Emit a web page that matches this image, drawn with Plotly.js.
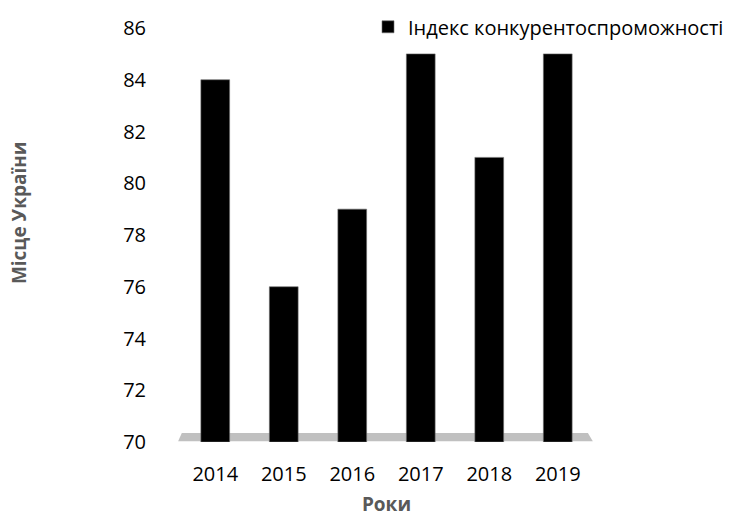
<!DOCTYPE html>
<html>
<head>
<meta charset="utf-8">
<script src="https://cdn.plot.ly/plotly-3.0.1.min.js"></script>
<style>html,body{margin:0;padding:0;background:#fff;}#chart{width:736px;height:517px;}</style>
</head>
<body>
<div id="chart"></div>
<script>
const years = ['2014', '2015', '2016', '2017', '2018', '2019'];
const rankValues = [84, 76, 79, 85, 81, 85];
const seriesName = 'Індекс конкурентоспроможності';
const yTicks = [70, 72, 74, 76, 78, 80, 82, 84, 86];
const xTitle = 'Роки';
const yTitle = 'Місце України';

const trace = {
  type: 'bar',
  x: years,
  y: rankValues.map(v => v - 70),
  base: 70,
  name: seriesName,
  marker: { color: '#000000', line: { color: '#6f6f6f', width: 0.6 } },
  width: 0.42,
  hoverinfo: 'x+y'
};

const titleFont = { size: 19, color: '#595959', family: 'Open Sans, sans-serif', weight: 'bold' };

const layout = {
  width: 736, height: 517,
  margin: { l: 181, r: 144, t: 28, b: 75, autoexpand: false },
  paper_bgcolor: '#ffffff', plot_bgcolor: '#ffffff',
  font: { family: 'Open Sans, Liberation Sans, sans-serif', size: 20, color: '#000000' },
  showlegend: true,
  legend: {
    x: 0.455, y: 1.05, xanchor: 'left', yanchor: 'top',
    font: { size: 20, color: '#000000' },
    itemwidth: 30, bgcolor: 'rgba(0,0,0,0)'
  },
  xaxis: {
    type: 'category',
    showgrid: false, zeroline: false, showline: false, ticks: '',
    ticklabelstandoff: 18,
    tickfont: { size: 20, color: '#000000' },
    title: { text: xTitle, font: titleFont, standoff: 12 }
  },
  yaxis: {
    range: [70, 86],
    tickvals: yTicks,
    ticktext: yTicks.map(String),
    showgrid: false, zeroline: false, showline: false, ticks: '',
    ticklabelstandoff: 34,
    tickfont: { size: 20, color: '#000000' }
  },
  annotations: [{
    text: yTitle, xref: 'paper', yref: 'paper',
    x: -0.394, y: 0.553, xanchor: 'center', yanchor: 'middle',
    textangle: -90, showarrow: false, font: titleFont
  }],
  shapes: [{
    type: 'path', xref: 'paper', yref: 'paper', layer: 'below',
    path: 'M -0.007 0.002 L 1.002 0.002 L 0.99 0.022 L 0.002 0.022 Z',
    fillcolor: '#c0c0c0', line: { width: 0 }
  }]
};

Plotly.newPlot('chart', [trace], layout, { displayModeBar: false, staticPlot: true });
</script>
</body>
</html>
